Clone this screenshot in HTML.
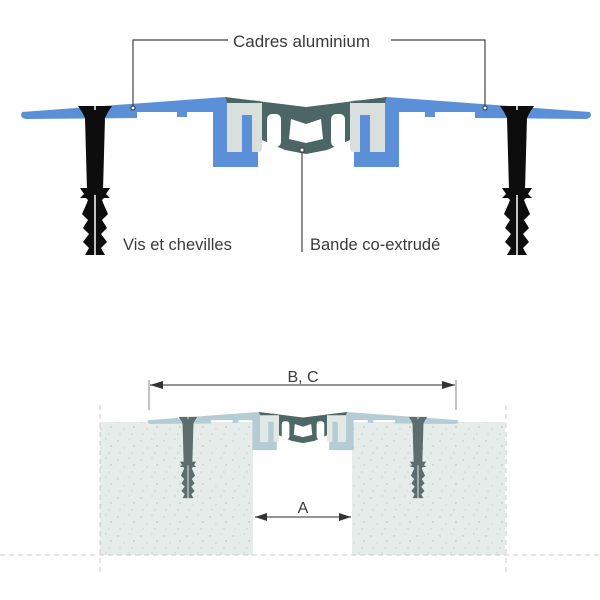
<!DOCTYPE html>
<html><head><meta charset="utf-8"><style>
html,body{margin:0;padding:0;background:#fff}
svg{display:block}
.plate{fill:var(--pl)}
.ins{fill:var(--in)}
.band{fill:var(--bd)}
.scr{fill:var(--sc)}
text{font-family:"Liberation Sans",sans-serif;fill:#3a3a3a}
</style></head><body>
<svg width="600" height="600" viewBox="0 0 600 600" xmlns="http://www.w3.org/2000/svg">
<defs>
<pattern id="conc" width="23" height="19" patternUnits="userSpaceOnUse">
<rect width="23" height="19" fill="#e6ecea"/>
<circle cx="3" cy="4" r="0.7" fill="#b8c2c0"/><circle cx="14" cy="2" r="0.5" fill="#a9b5b3"/>
<circle cx="9" cy="11" r="0.6" fill="#c0c9c7"/><circle cx="19" cy="9" r="0.7" fill="#b0bbb9"/>
<circle cx="5" cy="16" r="0.5" fill="#a9b5b3"/><circle cx="17" cy="16" r="0.6" fill="#bcc5c3"/>
</pattern>
<g id="half">
  <rect class="ins" x="225" y="100" width="37" height="52" rx="4"/>
  <path class="plate" d="M22,112 Q19,118 26,119 L137,118 L137,112 L177,112 L177,117 L187,117 L187,112 L213,112 L213,167 L258,167 L258,152 L252,152 L252,115 L242,115 L242,152 L227,152 L227,103 L225,97 Z"/>
  <path class="scr" d="M78,106 L112,106 L108,112 L105,118 L103,190 L87,190 L85,118 L82,112 Z"/>
  <path class="scr" d="M88,188 L80,188 L84,194 L80,198 L86,198 L88,200 L86,205 L82,214 L88,220 L83,228 L89,234 L83,242 L89,248 L85,255 L105,255 L101,248 L107,242 L101,234 L107,228 L102,220 L108,214 L104,205 L102,200 L104,198 L110,198 L106,194 L110,188 L102,188 Z"/>
  <path d="M95,106 L95,110" stroke="#fff" stroke-width="1.5"/>
  <line x1="95" y1="195" x2="95" y2="256" stroke="#fff" stroke-width="1.5"/>
</g>
<g id="bandg">
  <path class="band" d="M225,97 L306,107 L387,97 L385,103 L350,103 L350,140 L327,150 L306,154 L285,150 L262,140 L262,103 L227,103 Z"/>
  <rect x="267" y="114" width="14" height="33" rx="5" fill="#fff"/>
  <rect x="331" y="114" width="14" height="33" rx="5" fill="#fff"/>
  <path d="M291,119 L306,124 L321,119 L323,139 L306,143 L289,139 Z" fill="#fff"/>
</g>
<g id="prof">
  <use href="#half"/>
  <use href="#half" transform="translate(612,0) scale(-1,1)"/>
  <use href="#bandg"/>
</g>
</defs>

<g style="--pl:#5b8fd8;--in:#d8dfdc;--bd:#4b6664;--sc:#0d0d0d">
  <use href="#prof"/>
</g>
<g stroke="#444" stroke-width="1.2" fill="none">
  <polyline points="133,106 133,40 228,40"/>
  <polyline points="391,40 485,40 485,106"/>
  <circle cx="133" cy="108" r="2" fill="#fff"/>
  <circle cx="485" cy="108" r="2" fill="#fff"/>
  <line x1="302" y1="152" x2="302" y2="252"/>
  <rect x="300" y="148" width="4" height="4" fill="#fff"/>
</g>
<text x="233" y="47" font-size="17">Cadres aluminium</text>
<text x="123" y="250" font-size="16.5">Vis et chevilles</text>
<text x="310" y="250" font-size="16.5">Bande co-extrudé</text>

<rect x="100" y="422" width="153" height="133" fill="url(#conc)"/>
<rect x="352" y="422" width="153" height="133" fill="url(#conc)"/>
<g stroke="#c8cccc" stroke-width="1" stroke-dasharray="5,4" fill="none">
  <line x1="0" y1="555" x2="600" y2="555"/>
  <line x1="100" y1="405" x2="100" y2="572"/>
  <line x1="506" y1="405" x2="506" y2="572"/>
</g>
<g style="--pl:#b6ccd5;--in:#e2e8e6;--bd:#4d6866;--sc:#5c6d6d" transform="translate(303,412) scale(0.545) translate(-306,-97)">
  <use href="#prof"/>
</g>
<g stroke="#555" stroke-width="1.2" fill="#333">
  <line x1="149" y1="380" x2="149" y2="410" stroke="#999"/>
  <line x1="456" y1="380" x2="456" y2="410" stroke="#999"/>
  <line x1="150" y1="385" x2="455" y2="385"/>
  <path d="M150,385 L163,381 L163,389 Z" stroke="none"/>
  <path d="M455,385 L442,381 L442,389 Z" stroke="none"/>
  <line x1="255" y1="517" x2="351" y2="517"/>
  <path d="M255,517 L267,513 L267,521 Z" stroke="none"/>
  <path d="M351,517 L339,513 L339,521 Z" stroke="none"/>
</g>
<text x="303" y="382" font-size="16" text-anchor="middle">B, C</text>
<text x="303" y="513" font-size="16" text-anchor="middle">A</text>
</svg>
</body></html>
